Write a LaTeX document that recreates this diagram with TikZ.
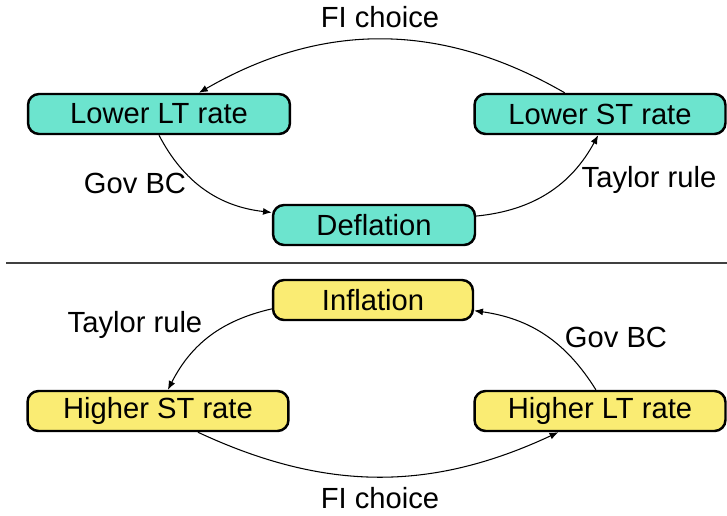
\documentclass[tikz,border=0pt]{standalone}
\usepackage{fontspec}
\setmainfont{Liberation Sans}
\usetikzlibrary{arrows.meta}
\definecolor{deflfill}{RGB}{108,228,206}
\definecolor{inflfill}{RGB}{250,236,115}
\tikzset{
    box/.style={draw,line width=1.4pt,rounded corners=0.22cm,minimum height=0.8cm,
        inner sep=0pt,font=\fontsize{16.6}{19}\selectfont},
    lowbox/.style={box,fill=deflfill},
    highbox/.style={box,fill=inflfill},
    lbl/.style={font=\fontsize{16.6}{19}\selectfont},
    link/.style={-{Latex[length=5pt,width=4pt]},line width=0.6pt,bend right=#1},
    link/.default=28
}
\begin{document}
\begin{tikzpicture}[x=0.02cm,y=-0.02cm]
    \useasboundingbox (0,0) rectangle (727,515);
    %draw deflation loop
    \node[lowbox,minimum width=5.24cm] (lowlt) at (159,114) {Lower LT rate};
    \node[lowbox,minimum width=5.02cm] (lowst) at (600,114) {Lower ST rate};
    \node[lowbox,minimum width=4.04cm] (defl) at (374,225) {Deflation};
    \node[lbl] (fitop) at (380,17) {FI choice};
    \node[lbl] (govtop) at (135,183) {Gov BC};
    \node[lbl] (taytop) at (649,180) {Taylor rule};
    \draw [link=30] (lowst.149) to (lowlt.28);
    \draw [link=28] (lowlt.south) to (defl.173);
    \draw [link=28] (defl.5) to (lowst.265);
    %draw separator
    \coordinate (sepl) at (6,263);
    \coordinate (sepr) at (727,263);
    \draw [line width=0.8pt,darkgray] (sepl) -- (sepr);
    %draw inflation loop
    \node[highbox,minimum width=4.0cm] (infl) at (373,300) {Inflation};
    \node[highbox,minimum width=5.22cm] (highst) at (158,411) {Higher ST rate};
    \node[highbox,minimum width=5.02cm] (highlt) at (600,411) {Higher LT rate};
    \node[lbl] (taybot) at (135,325) {Taylor rule};
    \node[lbl] (govbot) at (616,337) {Gov BC};
    \node[lbl] (fibot) at (380,498) {FI choice};
    \draw [link=25] (infl.185) to (highst.65);
    \draw [link=25] (highlt.101) to (infl.354);
    \draw [link=25] (highst.332) to (highlt.207);
\end{tikzpicture}
\end{document}
